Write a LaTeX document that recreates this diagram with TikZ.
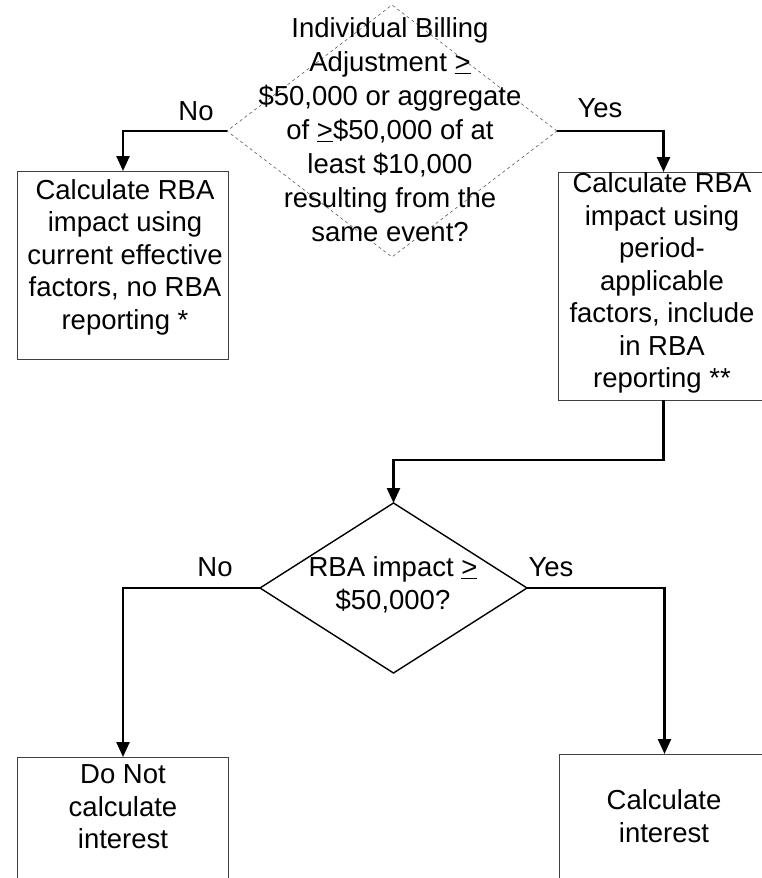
\documentclass[tikz,border=0pt]{standalone}
\usepackage{fontspec}
\setmainfont{Liberation Sans}
\usetikzlibrary{shapes.geometric,arrows.meta}

\begin{document}
\begin{tikzpicture}[x=1pt,y=-1pt,font=\fontsize{27.5}{32.5}\selectfont,
	box/.style={draw=black!75,line width=0.8pt,minimum width=211pt,inner sep=0pt,outer sep=0pt},
	decision/.style={diamond,draw,inner sep=0pt,outer sep=0pt},
	txt/.style={align=center,inner sep=0pt},
	flow/.style={line width=2.4pt,-{Triangle[length=15pt,width=13pt]}}]
	\useasboundingbox (0,0) rectangle (762,878);
	% first question
	\node[decision,dashed,draw=black!65,line width=0.6pt,minimum width=330pt,minimum height=252pt] (q1) at (392,131) {};
	\node[txt,font=\fontsize{27.5}{34}\selectfont] (q1txt) at (390,130) {Individual Billing\\Adjustment \underline{>}\\\$50,000 or aggregate\\of \underline{>}\$50,000 of at\\least \$10,000\\resulting from the\\same event?};
	% RBA boxes
	\node[box,minimum height=188pt] (rbanow) at (123,265) {};
	\node[txt] (rbanowtxt) at (125,257) {Calculate RBA\\impact using\\current effective\\factors, no RBA\\reporting *};
	\node[box,minimum height=228pt] (rbaper) at (663.5,286) {};
	\node[txt] (rbapertxt) at (662,283) {Calculate RBA\\impact using\\period-\\applicable\\factors, include\\in RBA\\reporting **};
	% second question
	\node[decision,line width=1.4pt,minimum width=267pt,minimum height=170pt] (q2) at (393.5,588) {};
	\node[txt] (q2txt) at (393,585) {RBA impact \underline{>}\\\$50,000?};
	% interest boxes
	\node[box,minimum height=200pt] (nointr) at (123,857) {};
	\node[txt] (nointrtxt) at (123,807) {Do Not\\calculate\\interest};
	\node[box,minimum height=200pt] (intr) at (664.5,854) {};
	\node[txt] (intrtxt) at (664,816) {Calculate\\interest};
	% branch labels
	\foreach \nm/\x/\y/\t in {no1/196/111/No,yes1/600/108/Yes,no2/215/567/No,yes2/551/567/Yes}
	\node (\nm) at (\x,\y) {\t};
	% connectors
	\draw[flow] (q1.west) -| (rbanow.north);
	\draw[flow] (q1.east) -| (rbaper.north);
	\draw[flow] (rbaper.south) -- ++(0,60) -| (q2.north);
	\draw[flow] (q2.west) -| (nointr.north);
	\draw[flow] (q2.east) -| (intr.north);
\end{tikzpicture}
\end{document}
